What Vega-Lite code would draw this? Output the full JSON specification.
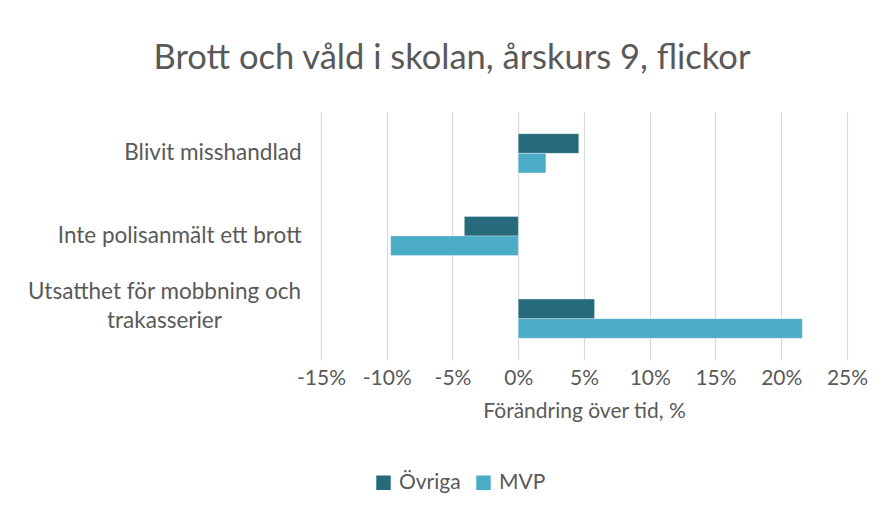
{
  "$schema": "https://vega.github.io/schema/vega-lite/v6.json",
  "autosize": {"type": "none"},
  "width": 526,
  "height": 248,
  "padding": {"left": 321, "top": 112, "right": 36, "bottom": 151},
  "background": "white",
  "title": {
    "text": "Brott och våld i skolan, årskurs 9, flickor",
    "anchor": "middle",
    "frame": "group",
    "dx": -132,
    "baseline": "alphabetic",
    "offset": 9,
    "font": "Lato",
    "fontSize": 34.5,
    "fontWeight": "normal",
    "color": "#595959"
  },
  "data": {
    "values": [
      {"cat": "Blivit misshandlad", "serie": "Övriga", "v": 0.046},
      {"cat": "Blivit misshandlad", "serie": "MVP", "v": 0.021},
      {"cat": "Inte polisanmält ett brott", "serie": "Övriga", "v": -0.041},
      {"cat": "Inte polisanmält ett brott", "serie": "MVP", "v": -0.097},
      {"cat": "Utsatthet för mobbning och trakasserier", "serie": "Övriga", "v": 0.058},
      {"cat": "Utsatthet för mobbning och trakasserier", "serie": "MVP", "v": 0.216}
    ]
  },
  "mark": {"type": "bar", "stroke": "white", "strokeWidth": 0.5, "strokeOpacity": 0.6},
  "encoding": {
    "y": {
      "field": "cat",
      "type": "nominal",
      "sort": ["Blivit misshandlad", "Inte polisanmält ett brott", "Utsatthet för mobbning och trakasserier"],
      "scale": {"paddingInner": 0.526, "paddingOuter": 0.263},
      "axis": {
        "title": null,
        "domain": false,
        "ticks": false,
        "grid": false,
        "labelFont": "Lato",
        "labelFontSize": 22.5,
        "labelColor": "#595959",
        "labelLimit": 400,
        "labelLineHeight": 29,
        "labelPadding": {"condition": {"test": "datum.value == 'Utsatthet för mobbning och trakasserier'", "value": 157}, "value": 20},
        "labelAlign": {"condition": {"test": "datum.value == 'Utsatthet för mobbning och trakasserier'", "value": "center"}, "value": "right"},
        "labelOffset": {"condition": {"test": "datum.value == 'Utsatthet för mobbning och trakasserier'", "value": -27}, "value": 0},
        "labelExpr": "datum.value == 'Utsatthet för mobbning och trakasserier' ? ['Utsatthet för mobbning och', 'trakasserier'] : datum.value"
      }
    },
    "yOffset": {"field": "serie", "type": "nominal", "sort": ["Övriga", "MVP"]},
    "x": {
      "field": "v",
      "type": "quantitative",
      "scale": {"domain": [-0.15, 0.25], "nice": false, "zero": false},
      "axis": {
        "values": [-0.15, -0.1, -0.05, 0, 0.05, 0.1, 0.15, 0.2, 0.25],
        "format": ".0%",
        "labelExpr": "replace(datum.label, '−', '-')",
        "labelOverlap": false,
        "labelFlush": false,
        "labelBound": false,
        "title": "Förändring över tid, %",
        "titleFont": "Lato",
        "titleFontSize": 21,
        "titleFontWeight": "normal",
        "titleColor": "#595959",
        "titlePadding": 12,
        "domain": false,
        "ticks": false,
        "grid": true,
        "gridColor": "#d9d9d9",
        "gridWidth": 1.2,
        "labelPadding": 7,
        "labelFont": "Lato",
        "labelFontSize": 21,
        "labelColor": "#595959"
      }
    },
    "color": {
      "field": "serie",
      "type": "nominal",
      "scale": {"domain": ["Övriga", "MVP"], "range": ["#276a7c", "#4bacc6"]},
      "legend": {
        "title": null,
        "orient": "none",
        "direction": "horizontal",
        "legendX": 52,
        "legendY": 360,
        "padding": 0,
        "symbolType": "square",
        "symbolSize": 210,
        "symbolStrokeWidth": 0,
        "labelFont": "Lato",
        "labelFontSize": 21,
        "labelColor": "#595959",
        "labelOffset": 5,
        "columnPadding": 12
      }
    }
  },
  "config": {"view": {"stroke": null}}
}
